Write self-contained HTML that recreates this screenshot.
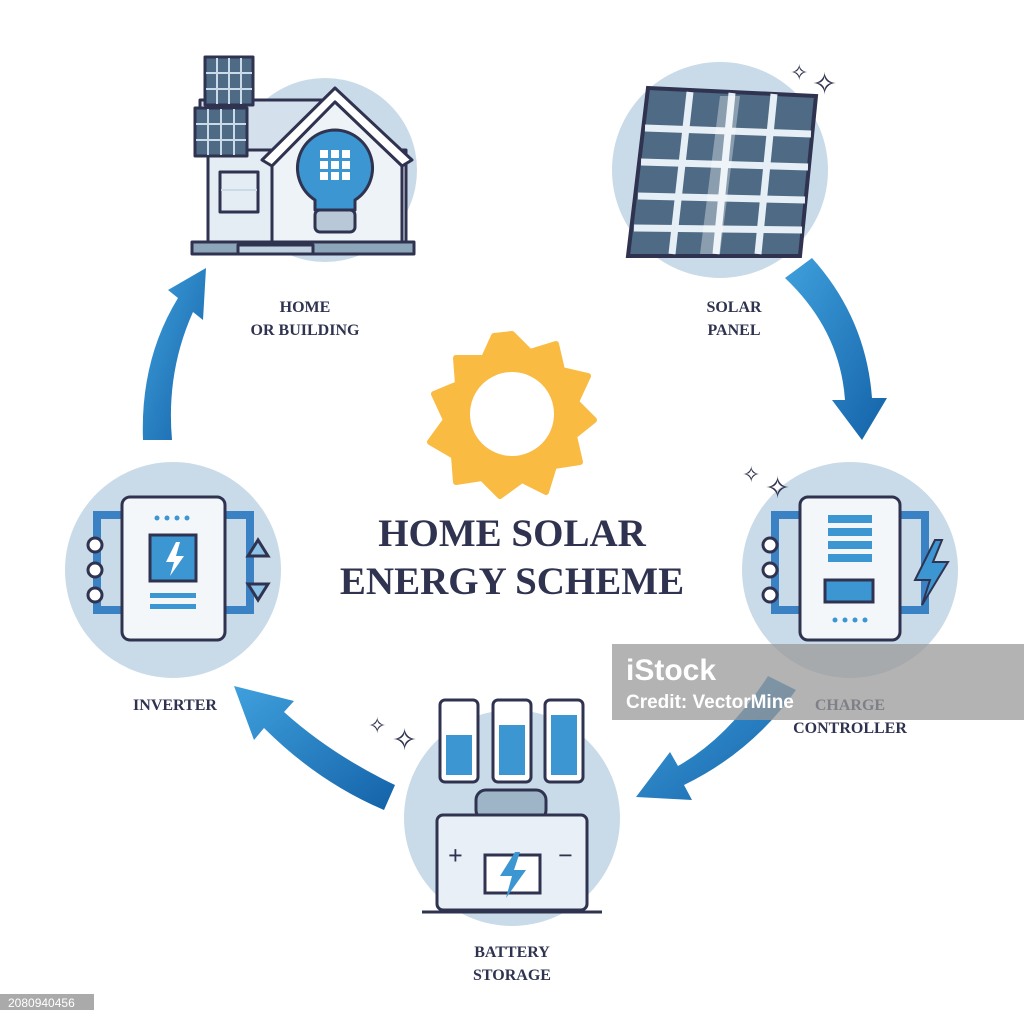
<!DOCTYPE html>
<html><head><meta charset="utf-8"><style>
html,body{margin:0;padding:0;background:#fff;}
svg{display:block}
text{font-family:"Liberation Serif",serif;font-weight:bold;fill:#2f3350}
</style></head><body>
<svg width="1024" height="1024" viewBox="0 0 1024 1024" xmlns="http://www.w3.org/2000/svg">
<defs>
<linearGradient id="ag" x1="0" y1="0" x2="1" y2="1"><stop offset="0" stop-color="#3fa0dc"/><stop offset="1" stop-color="#1462a8"/></linearGradient>
</defs>
<rect width="1024" height="1024" fill="#fff"/>
<circle cx="325" cy="170" r="92" fill="#c9dbe8"/>
<circle cx="720" cy="170" r="108" fill="#c9dbe8"/>
<circle cx="850" cy="570" r="108" fill="#c9dbe8"/>
<circle cx="512" cy="818" r="108" fill="#c9dbe8"/>
<circle cx="173" cy="570" r="108" fill="#c9dbe8"/>

<g fill="url(#ag)">
<path d="M785 278 Q840 330 845 400 L832 400 L862 440 L887 398 L872 398 Q866 318 812 258 Z"/>
<path d="M768 676 Q728 738 678 766 L670 752 L636 797 L692 800 L684 785 Q752 752 796 690 Z"/>
<path d="M395 785 Q332 755 284 712 L294 701 L234 686 L254 740 L264 728 Q318 782 384 810 Z"/>
<path d="M143 440 Q140 360 178 298 L168 290 L206 268 L203 320 L193 312 Q166 372 172 440 Z"/>
</g>

<g transform="translate(512,414)">
<polygon fill="#f9bb42" stroke="#f9bb42" stroke-width="6" stroke-linejoin="round" points="0,-80 18,-62 44,-70 50,-44 76,-38 64,-12 82,6 62,22 68,48 42,52 34,78 10,66 -12,82 -30,64 -56,68 -58,42 -82,28 -66,6 -78,-20 -54,-30 -56,-56 -28,-56 -18,-78"/>
<circle r="42" fill="#fff"/>
</g>

<text x="512" y="546" font-size="39" text-anchor="middle">HOME SOLAR</text>
<text x="512" y="594" font-size="39" text-anchor="middle">ENERGY SCHEME</text>

<g font-size="16" text-anchor="middle" style="font-weight:900">
<text x="305" y="312">HOME</text><text x="305" y="335">OR BUILDING</text>
<text x="734" y="312">SOLAR</text><text x="734" y="335">PANEL</text>
<text x="175" y="710">INVERTER</text>
<text x="850" y="710">CHARGE</text><text x="850" y="733">CONTROLLER</text>
<text x="512" y="957">BATTERY</text><text x="512" y="980">STORAGE</text>
</g>

<g stroke="#2f3350" stroke-width="3" stroke-linejoin="round">
<rect x="208" y="150" width="198" height="95" fill="#e4ecf4"/>
<polygon points="200,100 335,100 335,150 200,150" fill="#d4e0ec"/>
<polygon points="262,160 335,88 412,160 402,166 335,102 272,166" fill="#fff"/>
<polygon points="272,166 335,102 402,166 402,245 272,245" fill="#eef3f8"/>
<rect x="220" y="172" width="38" height="40" fill="#e4ecf4"/>
<rect x="205" y="57" width="48" height="48" fill="#4e6a84"/>
<rect x="195" y="108" width="52" height="48" fill="#4e6a84"/>
<rect x="192" y="242" width="222" height="12" fill="#8ea6ba"/>
<rect x="238" y="245" width="75" height="9" fill="#c0d0de"/>
<path d="M335 130 a38 38 0 0 1 20 70 v10 h-40 v-10 a38 38 0 0 1 20 -70z" fill="#3b96d2"/>
<rect x="315" y="210" width="40" height="22" rx="5" fill="#b8c8d6"/>
</g>
<g stroke="#c9dbe8" stroke-width="2">
<line x1="217" y1="58" x2="217" y2="104"/><line x1="229" y1="58" x2="229" y2="104"/><line x1="241" y1="58" x2="241" y2="104"/>
<line x1="206" y1="73" x2="252" y2="73"/><line x1="206" y1="89" x2="252" y2="89"/>
<line x1="208" y1="109" x2="208" y2="155"/><line x1="221" y1="109" x2="221" y2="155"/><line x1="234" y1="109" x2="234" y2="155"/>
<line x1="196" y1="124" x2="246" y2="124"/><line x1="196" y1="140" x2="246" y2="140"/>
<line x1="221" y1="190" x2="257" y2="190"/>
</g>
<g fill="#fff"><rect x="320" y="150" width="8" height="8"/><rect x="331" y="150" width="8" height="8"/><rect x="342" y="150" width="8" height="8"/><rect x="320" y="161" width="8" height="8"/><rect x="331" y="161" width="8" height="8"/><rect x="342" y="161" width="8" height="8"/><rect x="320" y="172" width="8" height="8"/><rect x="331" y="172" width="8" height="8"/><rect x="342" y="172" width="8" height="8"/></g>

<polygon points="648,88 816,96 800,256 628,256" fill="#4e6a84" stroke="#2f3350" stroke-width="4"/>
<g stroke="#e6eef6" stroke-width="7">
<line x1="690" y1="92" x2="672" y2="254"/><line x1="732" y1="93" x2="716" y2="254"/><line x1="774" y1="94" x2="758" y2="254"/>
<line x1="645" y1="128" x2="811" y2="134"/><line x1="641" y1="162" x2="808" y2="167"/><line x1="638" y1="196" x2="805" y2="200"/><line x1="634" y1="228" x2="802" y2="230"/>
</g>
<polygon points="720,96 740,96 720,254 700,254" fill="#fff" opacity="0.35"/>
<text x="790" y="80" font-size="22" style="font-family:'DejaVu Sans'">✧</text>
<text x="812" y="94" font-size="30" style="font-family:'DejaVu Sans'">✧</text>

<g stroke="#2f3350" stroke-width="3">
<path d="M800 515 h-25 v95 h25" fill="none" stroke="#3b82c4" stroke-width="8"/>
<path d="M900 515 h25 v95 h-25" fill="none" stroke="#3b82c4" stroke-width="8"/>
<circle cx="770" cy="545" r="7" fill="#fff"/><circle cx="770" cy="570" r="7" fill="#fff"/><circle cx="770" cy="595" r="7" fill="#fff"/>
<rect x="800" y="497" width="100" height="143" rx="8" fill="#f4f7fa"/>
<rect x="825" y="580" width="48" height="22" fill="#3b96d2"/>
</g>
<g fill="#3b96d2"><rect x="828" y="515" width="44" height="8"/><rect x="828" y="528" width="44" height="8"/><rect x="828" y="541" width="44" height="8"/><rect x="828" y="554" width="44" height="8"/></g>
<polygon points="935,540 915,580 930,580 922,605 948,562 933,562 942,540" fill="#3b96d2" stroke="#2f3350" stroke-width="2"/>
<text x="742" y="482" font-size="22" style="font-family:'DejaVu Sans'">✧</text>
<text x="765" y="498" font-size="30" style="font-family:'DejaVu Sans'">✧</text>

<g stroke="#2f3350" stroke-width="3">
<path d="M122 515 h-25 v95 h25" fill="none" stroke="#3b82c4" stroke-width="8"/>
<path d="M225 515 h25 v95 h-25" fill="none" stroke="#3b82c4" stroke-width="8"/>
<circle cx="95" cy="545" r="7" fill="#fff"/><circle cx="95" cy="570" r="7" fill="#fff"/><circle cx="95" cy="595" r="7" fill="#fff"/>
<rect x="122" y="497" width="103" height="143" rx="8" fill="#f4f7fa"/>
<rect x="150" y="535" width="46" height="46" fill="#3b96d2"/>
<polygon points="258,540 248,556 268,556" fill="#8ec2e6"/><polygon points="258,600 248,584 268,584" fill="#8ec2e6"/>
</g>
<polygon points="176,542 166,562 174,562 170,576 184,556 176,556 180,542" fill="#fff"/>
<g fill="#3b96d2"><rect x="150" y="593" width="46" height="5"/><rect x="150" y="604" width="46" height="5"/></g>
<g fill="#3b96d2"><circle cx="157" cy="518" r="2.5"/><circle cx="167" cy="518" r="2.5"/><circle cx="177" cy="518" r="2.5"/><circle cx="187" cy="518" r="2.5"/>
<circle cx="835" cy="620" r="2.5"/><circle cx="845" cy="620" r="2.5"/><circle cx="855" cy="620" r="2.5"/><circle cx="865" cy="620" r="2.5"/></g>

<g stroke="#2f3350" stroke-width="3">
<rect x="440" y="700" width="38" height="82" rx="5" fill="#fff"/>
<rect x="493" y="700" width="38" height="82" rx="5" fill="#fff"/>
<rect x="545" y="700" width="38" height="82" rx="5" fill="#fff"/>
<rect x="476" y="790" width="70" height="30" rx="10" fill="#9eb5c8"/>
<rect x="437" y="815" width="150" height="95" rx="6" fill="#e8eff6"/>
<rect x="485" y="855" width="55" height="38" fill="#fff"/>
<line x1="422" y1="912" x2="602" y2="912"/>
</g>
<g fill="#3b96d2"><rect x="446" y="735" width="26" height="40"/><rect x="499" y="725" width="26" height="50"/><rect x="551" y="715" width="26" height="60"/></g>
<polygon points="515,852 500,876 512,876 506,898 526,870 514,870 520,852" fill="#3b96d2"/>
<text x="448" y="864" font-size="26" fill="#9eb5c8">+</text>
<text x="558" y="864" font-size="26" fill="#9eb5c8">−</text>
<text x="368" y="733" font-size="22" style="font-family:'DejaVu Sans'">✧</text>
<text x="392" y="750" font-size="30" style="font-family:'DejaVu Sans'">✧</text>

<rect x="612" y="644" width="412" height="76" fill="#9a9a9a" opacity="0.75"/>
<text x="626" y="680" font-size="30" style="font-family:'Liberation Sans';fill:#fff">iStock</text>
<text x="626" y="708" font-size="19" style="font-family:'Liberation Sans';fill:#fff">Credit: VectorMine</text>
<rect x="0" y="994" width="94" height="16" fill="#aaa"/>
<text x="8" y="1007" font-size="12" style="font-family:'Liberation Sans';font-weight:normal;fill:#fff">2080940456</text>
</svg>
</body></html>
